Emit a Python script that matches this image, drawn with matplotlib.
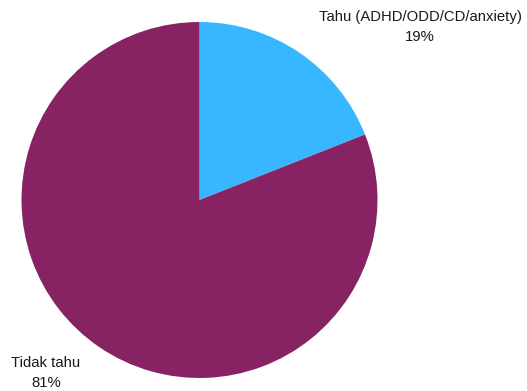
import matplotlib.pyplot as plt

labels = ["Tahu (ADHD/ODD/CD/anxiety)", "Tidak tahu"]
shares = [19, 81]
colors = ["#38b6ff", "#872363"]

W, H = 527, 391
fig = plt.figure(figsize=(W / 100, H / 100), dpi=100)
plt.rcParams["font.family"] = ["Liberation Sans", "DejaVu Sans"]

# pie area in pixels: left 21.5, top 22, size 356
ax = fig.add_axes([21.5 / W, 1 - (22 + 356) / H, 356 / W, 356 / H])
ax.pie(shares, colors=colors, startangle=90, counterclock=False,
       wedgeprops={"linewidth": 0})
ax.set_aspect("equal")
ax.set_xlim(-1, 1)
ax.set_ylim(-1, 1)
ax.axis("off")

# label positions (pixel centres of the two-line blocks)
label_pos = [(420, 27), (46, 373)]
for lab, val, (px, py) in zip(labels, shares, label_pos):
    fig.text(px / W, 1 - py / H, f"{lab}\n{val}%", ha="center", va="center",
             fontsize=10.75, color="#1a1a1a", linespacing=1.6)

fig.savefig("out.png", dpi=100)
